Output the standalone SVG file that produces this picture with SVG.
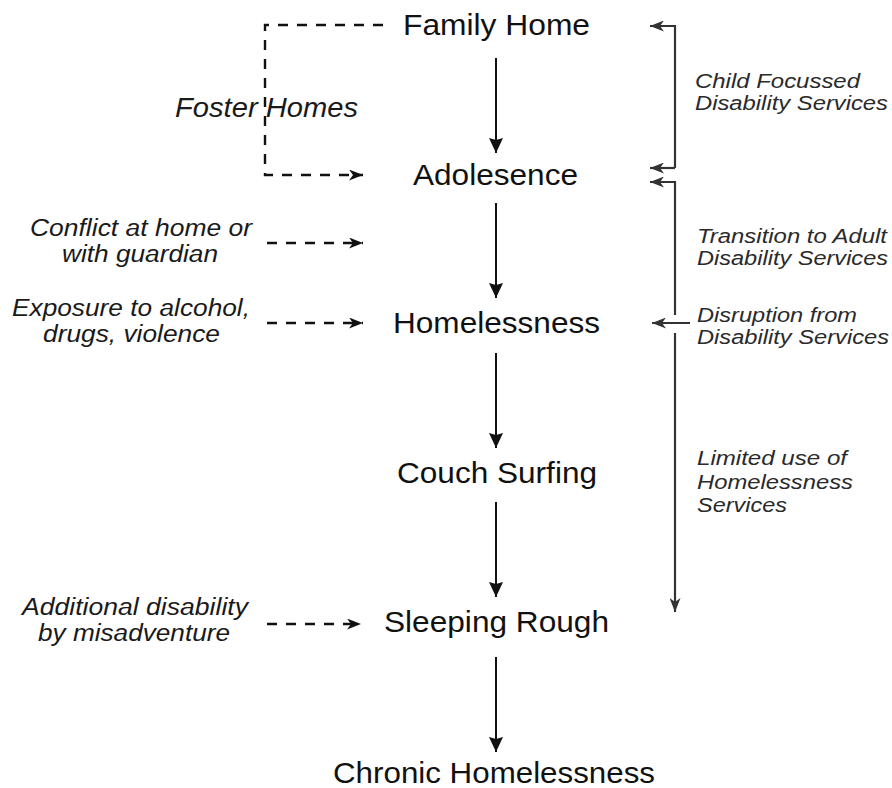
<svg xmlns="http://www.w3.org/2000/svg" width="892" height="788" viewBox="0 0 892 788">
<style>
.node{font-family:"Liberation Sans",Arial,sans-serif;font-size:30px;fill:#111}
.lbl{font-family:"Liberation Sans",Arial,sans-serif;font-style:italic;font-size:23px;fill:#1a1a1a}
.rl{font-family:"Liberation Sans",Arial,sans-serif;font-style:italic;font-size:20.5px;fill:#2a2a2a}
.main{stroke:#111;stroke-width:2;fill:none}
.dash{stroke:#111;stroke-width:2.4;fill:none;stroke-dasharray:10 9}
.side{stroke:#333;stroke-width:2.2;fill:none}
</style>
<defs>
<marker id="ah" viewBox="0 0 16 14" refX="15" refY="7" markerWidth="16" markerHeight="14" markerUnits="userSpaceOnUse" orient="auto">
<path d="M0,0 L15,7 L0,14 L2,7 Z" fill="#111"/>
</marker>
<marker id="dh" viewBox="0 0 15 11" refX="14" refY="5.5" markerWidth="15" markerHeight="11" markerUnits="userSpaceOnUse" orient="auto">
<path d="M0,0 L14,5.5 L0,11 L4,5.5 Z" fill="#111"/>
</marker>
<marker id="sh" viewBox="0 0 15 11" refX="14" refY="5.5" markerWidth="15" markerHeight="11" markerUnits="userSpaceOnUse" orient="auto">
<path d="M0,0 L14,5.5 L0,11 L4,5.5 Z" fill="#333"/>
</marker>
</defs>
<rect width="892" height="788" fill="#fff"/>
<g id="connectors">
<line class="main" x1="496" y1="58" x2="496" y2="153" marker-end="url(#ah)"/>
<line class="main" x1="496" y1="203" x2="496" y2="298" marker-end="url(#ah)"/>
<line class="main" x1="496" y1="353" x2="496" y2="448" marker-end="url(#ah)"/>
<line class="main" x1="496" y1="502" x2="496" y2="597" marker-end="url(#ah)"/>
<line class="main" x1="496" y1="657" x2="496" y2="752" marker-end="url(#ah)"/>
<path class="dash" d="M383,25 H265 V175 H363" marker-end="url(#dh)"/>
<line class="dash" x1="267" y1="243" x2="363" y2="243" marker-end="url(#dh)"/>
<line class="dash" x1="267" y1="323" x2="363" y2="323" marker-end="url(#dh)"/>
<line class="dash" x1="267" y1="624" x2="361" y2="624" marker-end="url(#dh)"/>
<path class="side" d="M675,168 V26 H650" marker-end="url(#sh)"/>
<line class="side" x1="675" y1="168" x2="650" y2="168" marker-end="url(#sh)"/>
<path class="side" d="M675,315 V182 H650" marker-end="url(#sh)"/>
<line class="side" x1="675" y1="333" x2="675" y2="612" marker-end="url(#sh)"/>
<line class="side" x1="690" y1="323" x2="652" y2="323" marker-end="url(#sh)"/>
</g>
<g id="family-home"><text class="node" x="403" y="35" textLength="187" lengthAdjust="spacingAndGlyphs">Family Home</text></g>
<g id="adolesence"><text class="node" x="413" y="185" textLength="165" lengthAdjust="spacingAndGlyphs">Adolesence</text></g>
<g id="homelessness"><text class="node" x="393" y="333" textLength="207" lengthAdjust="spacingAndGlyphs">Homelessness</text></g>
<g id="couch-surfing"><text class="node" x="397" y="483" textLength="200" lengthAdjust="spacingAndGlyphs">Couch Surfing</text></g>
<g id="sleeping-rough"><text class="node" x="384" y="632" textLength="225" lengthAdjust="spacingAndGlyphs">Sleeping Rough</text></g>
<g id="chronic-homelessness"><text class="node" x="333" y="783" textLength="322" lengthAdjust="spacingAndGlyphs">Chronic Homelessness</text></g>
<g id="foster-homes"><text class="lbl" style="font-size:27px" x="175" y="117" textLength="183" lengthAdjust="spacingAndGlyphs">Foster Homes</text></g>
<g id="conflict">
<text class="lbl" x="30" y="236" textLength="222" lengthAdjust="spacingAndGlyphs">Conflict at home or</text>
<text class="lbl" x="62" y="262" textLength="156" lengthAdjust="spacingAndGlyphs">with guardian</text>
</g>
<g id="exposure">
<text class="lbl" x="12" y="316" textLength="238" lengthAdjust="spacingAndGlyphs">Exposure to alcohol,</text>
<text class="lbl" x="43" y="342" textLength="177" lengthAdjust="spacingAndGlyphs">drugs, violence</text>
</g>
<g id="additional">
<text class="lbl" x="22" y="615" textLength="226" lengthAdjust="spacingAndGlyphs">Additional disability</text>
<text class="lbl" x="38" y="641" textLength="192" lengthAdjust="spacingAndGlyphs">by misadventure</text>
</g>
<g id="child-focussed">
<text class="rl" x="695" y="88" textLength="165" lengthAdjust="spacingAndGlyphs">Child Focussed</text>
<text class="rl" x="695" y="110" textLength="193" lengthAdjust="spacingAndGlyphs">Disability Services</text>
</g>
<g id="transition">
<text class="rl" x="697" y="243" textLength="190" lengthAdjust="spacingAndGlyphs">Transition to Adult</text>
<text class="rl" x="697" y="265" textLength="191" lengthAdjust="spacingAndGlyphs">Disability Services</text>
</g>
<g id="disruption">
<text class="rl" x="697" y="322" textLength="160" lengthAdjust="spacingAndGlyphs">Disruption from</text>
<text class="rl" x="697" y="344" textLength="192" lengthAdjust="spacingAndGlyphs">Disability Services</text>
</g>
<g id="limited-use">
<text class="rl" x="697" y="465" textLength="150" lengthAdjust="spacingAndGlyphs">Limited use of</text>
<text class="rl" x="697" y="489" textLength="156" lengthAdjust="spacingAndGlyphs">Homelessness</text>
<text class="rl" x="697" y="512" textLength="90" lengthAdjust="spacingAndGlyphs">Services</text>
</g>
</svg>
